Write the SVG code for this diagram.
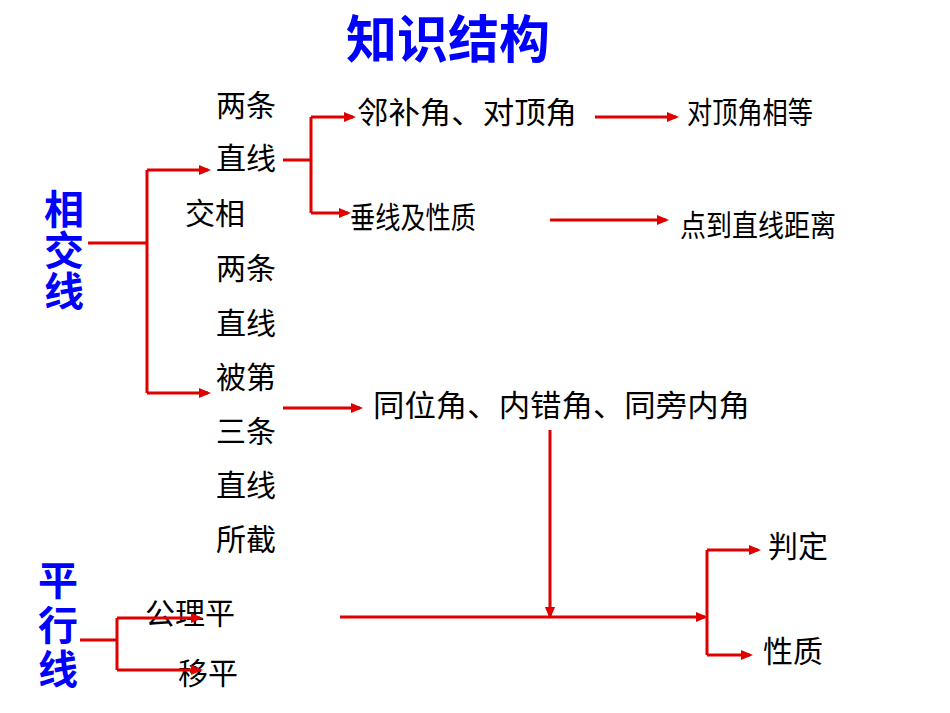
<svg xmlns="http://www.w3.org/2000/svg" width="950" height="713" viewBox="0 0 950 713">
<style>
.t{font-family:"Liberation Sans","Noto Sans CJK SC",sans-serif;font-size:30px;fill:#000}
.b{font-family:"Liberation Sans","Noto Sans CJK SC",sans-serif;font-size:40px;font-weight:bold;fill:#0000ff}
.l{stroke:#e00000;stroke-width:3;fill:none}
.a{stroke:#e00000;stroke-width:3;fill:none;marker-end:url(#ar)}
</style>
<defs><marker id="ar" markerWidth="4" markerHeight="4" refX="3" refY="2" orient="auto" markerUnits="strokeWidth"><path d="M0,0.3L4,2L0,3.7z" fill="#e00000"/></marker></defs>
<rect width="950" height="713" fill="#fff"/>
<g id="title"><text x="448" y="58" text-anchor="middle" class="b" style="font-size:51px">知识结构</text></g>
<g id="xjx"><text x="64" y="224" text-anchor="middle" class="b">相</text><text x="64" y="265" text-anchor="middle" class="b">交</text><text x="64" y="306" text-anchor="middle" class="b">线</text></g>
<g id="pxx"><text x="58" y="595" text-anchor="middle" class="b">平</text><text x="58" y="640" text-anchor="middle" class="b">行</text><text x="58" y="684" text-anchor="middle" class="b">线</text></g>
<g id="col">
<text x="216" y="116" class="t">两条</text><text x="216" y="169" class="t">直线</text><text x="185" y="224" class="t">交相</text>
<text x="216" y="279" class="t">两条</text><text x="216" y="334" class="t">直线</text><text x="216" y="388" class="t">被第</text>
<text x="216" y="442" class="t">三条</text><text x="216" y="496" class="t">直线</text><text x="216" y="550" class="t">所截</text></g>
<g id="n1"><text x="357" y="123" class="t" textLength="220" lengthAdjust="spacingAndGlyphs">邻补角、对顶角</text></g>
<g id="n2"><text x="687" y="123" class="t" textLength="126" lengthAdjust="spacingAndGlyphs">对顶角相等</text></g>
<g id="n3"><text x="350" y="228" class="t" textLength="126" lengthAdjust="spacingAndGlyphs">垂线及性质</text></g>
<g id="n4"><text x="680" y="236" class="t" textLength="156" lengthAdjust="spacingAndGlyphs">点到直线距离</text></g>
<g id="n5"><text x="373" y="416" class="t" textLength="377" lengthAdjust="spacingAndGlyphs">同位角、内错角、同旁内角</text></g>
<g id="n6"><text x="768" y="557" class="t">判定</text></g>
<g id="n7"><text x="763" y="662" class="t">性质</text></g>
<g id="n8"><text x="145" y="624" class="t">公理平</text></g>
<g id="n9"><text x="178" y="684" class="t">移平</text></g>
<g id="connectors">
<path class="l" d="M88,243H147M147,170V393M283,160H311M311,117V213M80,640H117M117,618V670M707,550V655"/>
<path class="a" d="M147,170H208"/><path class="a" d="M147,393H208"/>
<path class="a" d="M311,117H353"/><path class="a" d="M311,213H348"/>
<path class="a" d="M595,117H676"/><path class="a" d="M550,220H666"/>
<path class="a" d="M283,408H360"/><path class="a" d="M550,430V616"/>
<path class="a" d="M340,617H705"/>
<path class="a" d="M707,550H758"/><path class="a" d="M707,655H750"/>
<path class="a" d="M117,618H200"/><path class="a" d="M117,670H200"/>
</g>
</svg>
